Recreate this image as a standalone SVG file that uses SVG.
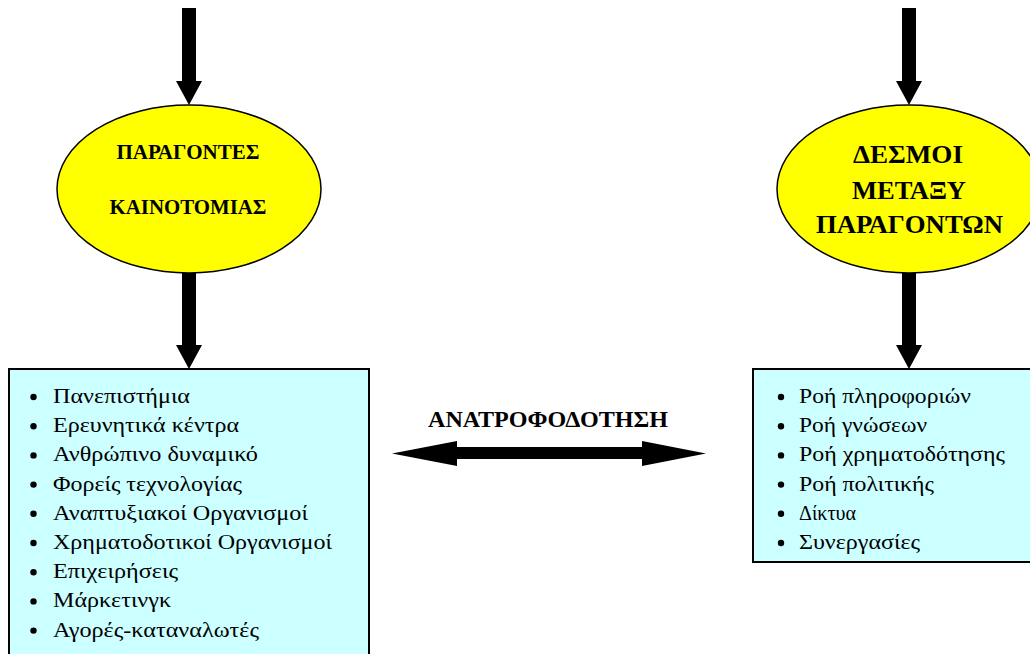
<svg xmlns="http://www.w3.org/2000/svg" width="1030" height="654" viewBox="0 0 1030 654">
<style>
.arrow{fill:#000;stroke:none}
.oval{fill:#FFFF00;stroke:#000;stroke-width:1.5}
.box{fill:#CCFFFF;stroke:#000;stroke-width:2}
.head{font-family:"Liberation Serif","Times New Roman",serif;font-weight:bold;fill:#000;text-anchor:middle}
.item{font-family:"Liberation Serif","Times New Roman",serif;font-size:22px;fill:#000}
.dot{fill:#000}
</style>
<rect width="1030" height="654" fill="#FFFFFF"/>
<g id="connectors">
<polygon class="arrow" points="182,8 196,8 196,81 202,81 189,105 176,81 182,81"/>
<polygon class="arrow" points="182,273 196,273 196,345 202,345 189,369 176,345 182,345"/>
<polygon class="arrow" points="902,8 916,8 916,81 922,81 909,105 896,81 902,81"/>
<polygon class="arrow" points="902,273 916,273 916,345 922,345 909,369 896,345 902,345"/>
<polygon class="arrow" points="392,453.5 457,441 457,447 642,447 642,441 706,453.5 642,466 642,459 457,459 457,466"/>
</g>
<g id="factors">
<ellipse class="oval" cx="189" cy="189" rx="132" ry="84"/>
<text class="head" x="188" y="159" font-size="21" textLength="143" lengthAdjust="spacingAndGlyphs">ΠΑΡΑΓΟΝΤΕΣ</text>
<text class="head" x="188" y="214" font-size="21" textLength="157" lengthAdjust="spacingAndGlyphs">ΚΑΙΝΟΤΟΜΙΑΣ</text>
</g>
<g id="links">
<ellipse class="oval" cx="909" cy="189" rx="132" ry="84"/>
<text class="head" x="908" y="163" font-size="25" textLength="110" lengthAdjust="spacingAndGlyphs">ΔΕΣΜΟΙ</text>
<text class="head" x="909" y="199" font-size="25" textLength="114" lengthAdjust="spacingAndGlyphs">ΜΕΤΑΞΥ</text>
<text class="head" x="909.5" y="233" font-size="25" textLength="187" lengthAdjust="spacingAndGlyphs">ΠΑΡΑΓΟΝΤΩΝ</text>
</g>
<g id="feedback">
<text class="head" x="548" y="426.5" font-size="23" textLength="240" lengthAdjust="spacingAndGlyphs">ΑΝΑΤΡΟΦΟΔΟΤΗΣΗ</text>
</g>
<g id="factors-list">
<rect class="box" x="9" y="369" width="360" height="300"/>
<g class="dot">
<circle cx="33.5" cy="397" r="3.2"/>
<circle cx="33.5" cy="426.2" r="3.2"/>
<circle cx="33.5" cy="455.4" r="3.2"/>
<circle cx="33.5" cy="484.6" r="3.2"/>
<circle cx="33.5" cy="513.8" r="3.2"/>
<circle cx="33.5" cy="543" r="3.2"/>
<circle cx="33.5" cy="572.2" r="3.2"/>
<circle cx="33.5" cy="601.4" r="3.2"/>
<circle cx="33.5" cy="630.6" r="3.2"/>
</g>
<text class="item" x="53" y="403" textLength="137" lengthAdjust="spacingAndGlyphs">Πανεπιστήμια</text>
<text class="item" x="53" y="432.2" textLength="186" lengthAdjust="spacingAndGlyphs">Ερευνητικά κέντρα</text>
<text class="item" x="53" y="461.4" textLength="205" lengthAdjust="spacingAndGlyphs">Ανθρώπινο δυναμικό</text>
<text class="item" x="53" y="490.6" textLength="189" lengthAdjust="spacingAndGlyphs">Φορείς τεχνολογίας</text>
<text class="item" x="53" y="519.8" textLength="255" lengthAdjust="spacingAndGlyphs">Αναπτυξιακοί Οργανισμοί</text>
<text class="item" x="53" y="549" textLength="279" lengthAdjust="spacingAndGlyphs">Χρηματοδοτικοί Οργανισμοί</text>
<text class="item" x="53" y="578.2" textLength="125" lengthAdjust="spacingAndGlyphs">Επιχειρήσεις</text>
<text class="item" x="53" y="607.4" textLength="118" lengthAdjust="spacingAndGlyphs">Μάρκετινγκ</text>
<text class="item" x="53" y="636.6" textLength="206" lengthAdjust="spacingAndGlyphs">Αγορές-καταναλωτές</text>
</g>
<g id="links-list">
<rect class="box" x="753" y="369" width="290" height="193"/>
<g class="dot">
<circle cx="781" cy="397" r="3.2"/>
<circle cx="781" cy="426.2" r="3.2"/>
<circle cx="781" cy="455.4" r="3.2"/>
<circle cx="781" cy="484.6" r="3.2"/>
<circle cx="781" cy="513.8" r="3.2"/>
<circle cx="781" cy="543" r="3.2"/>
</g>
<text class="item" x="799" y="403" textLength="172" lengthAdjust="spacingAndGlyphs">Ροή πληροφοριών</text>
<text class="item" x="799" y="432.2" textLength="128" lengthAdjust="spacingAndGlyphs">Ροή γνώσεων</text>
<text class="item" x="799" y="461.4" textLength="206" lengthAdjust="spacingAndGlyphs">Ροή χρηματοδότησης</text>
<text class="item" x="799" y="490.6" textLength="135" lengthAdjust="spacingAndGlyphs">Ροή πολιτικής</text>
<text class="item" x="799" y="519.8" textLength="57" lengthAdjust="spacingAndGlyphs">Δίκτυα</text>
<text class="item" x="799" y="549" textLength="121" lengthAdjust="spacingAndGlyphs">Συνεργασίες</text>
</g>
</svg>
